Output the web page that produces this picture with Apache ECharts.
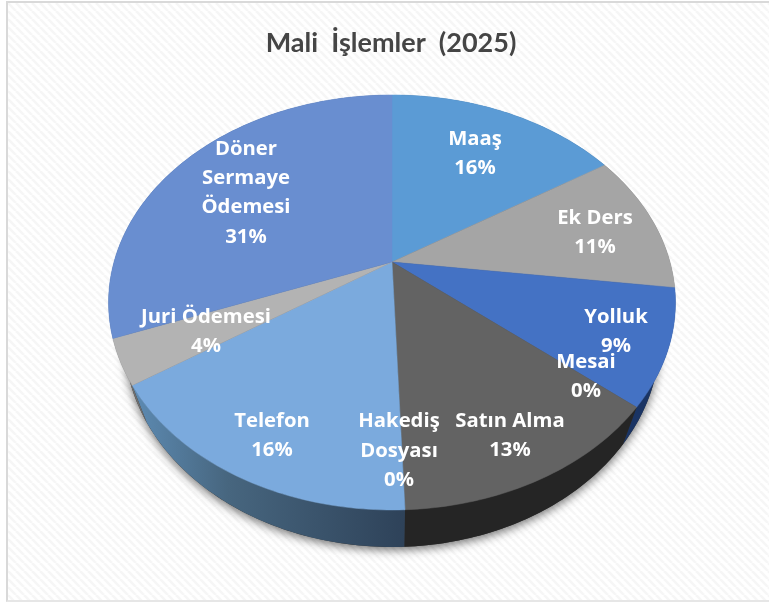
<!DOCTYPE html>
<html>
<head>
<meta charset="utf-8">
<style>
  html, body { margin: 0; padding: 0; background: #fff; }
  #frame { position: absolute; left: 6px; top: 1px; width: 763px; height: 601px; box-sizing: border-box;
           border-left: 2px solid #d9d9d9; border-top: 2px solid #d9d9d9; border-bottom: 2px solid #e6e6e6; }
  #chart { width: 761px; height: 597px; }
</style>
<script src="https://cdn.jsdelivr.net/npm/echarts@6/dist/echarts.min.js"></script>
</head>
<body>
<div id="frame"><div id="chart"></div></div>
<script>
// data
var categories = ['Maaş', 'Ek Ders', 'Yolluk', 'Mesai', 'Satın Alma', 'Hakediş\nDosyası', 'Telefon', 'Juri Ödemesi', 'Döner\nSermaye\nÖdemesi'];
var values = [16, 11, 9, 0, 13.4, 0, 16.3, 3.5, 30.8];

// look of each slice
var topColors = ['#5b9bd5', '#a5a5a5', '#4472c4', '#ed7d31', '#636363', '#264478', '#7baadd', '#b3b3b3', '#698ed0'];
var sideColors = ['#2e5f8c', '#6b6b6b', '#1a3464', '#8a4a1c', '#252525', '#16294a', null, '#6f6f6f', '#3a5488'];
// label centres, chart-local px (Excel placed these by hand)
var labelX = [467, 587, 608, 578, 502, 391, 264, 198, 238];
var labelY = [151, 230, 329, 374, 433, 448, 433, 329, 190];

// 3d look: projected disc, apex is off centre because of perspective
var OX = 384, OY = 259, RX = 278, RY = 199.6, PERSP = 0.195;
var DEPTH = 37, BOTTOM_SCALE = 0.944;

var total = values.reduce(function (a, b) { return a + b; }, 0);
var starts = [];
values.reduce(function (acc, v, i) { starts[i] = acc; return acc + v; }, 0);

function rim(frac) {
    var t = frac * Math.PI * 2;
    var d = 1 + PERSP * Math.cos(t);
    return [OX + RX * Math.sin(t) / d, OY - RY * Math.cos(t) / d];
}
function rimBottom(frac) {
    var p = rim(frac);
    return [OX + (p[0] - OX) * BOTTOM_SCALE, p[1] + DEPTH];
}
function arc(from, to, fn) {
    var n = Math.max(2, Math.ceil((to - from) * 360));
    var pts = [];
    for (var i = 0; i <= n; i++) pts.push(fn(from + (to - from) * i / n));
    return pts;
}

function renderShadow() {
    return {
        type: 'polygon',
        shape: { points: arc(0, 1, rimBottom) },
        style: { fill: '#333', shadowBlur: 10, shadowColor: 'rgba(0,0,0,0.55)', shadowOffsetY: 3 }
    };
}
function renderSide(params, api) {
    var i = params.dataIndex;
    if (!api.value(0)) return;
    var from = starts[i] / total, to = (starts[i] + api.value(0)) / total;
    var fill = sideColors[i] || new echarts.graphic.LinearGradient(0, 0, 1, 0, [
        { offset: 0, color: '#5d8bb3' },
        { offset: 0.35, color: '#47667f' },
        { offset: 1, color: '#2e4259' }
    ]);
    return {
        type: 'polygon',
        shape: { points: arc(from, to, rim).concat(arc(from, to, rimBottom).reverse()) },
        style: { fill: fill }
    };
}
function renderTop(params, api) {
    var i = params.dataIndex;
    if (!api.value(0)) return;
    var from = starts[i] / total, to = (starts[i] + api.value(0)) / total;
    return {
        type: 'polygon',
        shape: { points: [[OX, OY]].concat(arc(from, to, rim)) },
        style: { fill: topColors[i], stroke: topColors[i], lineWidth: 0.5 }
    };
}
function renderLabel(params, api) {
    var i = params.dataIndex;
    return {
        type: 'text',
        x: labelX[i],
        y: labelY[i],
        z2: 10,
        style: {
            text: categories[i] + '\n' + Math.round(api.value(0) / total * 100) + '%',
            fill: '#fff',
            font: 'bold 20.3px "Open Sans"',
            lineHeight: 29.3,
            align: 'center',
            verticalAlign: 'middle'
        }
    };
}

// diagonal hatch of the chart area
var hatch = document.createElement('canvas');
hatch.width = 8;
hatch.height = 8;
var g = hatch.getContext('2d');
g.fillStyle = '#ffffff';
g.fillRect(0, 0, 8, 8);
g.strokeStyle = '#f6f6f6';
g.lineWidth = 2.6;
[-8, 0, 8].forEach(function (o) {
    g.beginPath();
    g.moveTo(o, 0);
    g.lineTo(o + 8, 8);
    g.stroke();
});

var rows = values.map(function (v, i) { return [v, i]; });
var chart = echarts.init(document.getElementById('chart'));
chart.setOption({
    animation: false,
    backgroundColor: { image: hatch, repeat: 'repeat' },
    title: {
        text: 'Mali  İşlemler  (2025)',
        left: 378,
        top: 22,
        textAlign: 'center',
        textStyle: { fontFamily: 'Lato', fontWeight: 'bold', fontSize: 27, color: '#454545' }
    },
    series: [
        { type: 'custom', coordinateSystem: 'none', silent: true, data: [[0]], renderItem: renderShadow, z: 1 },
        { type: 'custom', coordinateSystem: 'none', data: rows, renderItem: renderSide, z: 2 },
        { type: 'custom', coordinateSystem: 'none', data: rows, renderItem: renderTop, z: 3 },
        { type: 'custom', coordinateSystem: 'none', data: rows, renderItem: renderLabel, z: 4 }
    ]
});
</script>
</body>
</html>
